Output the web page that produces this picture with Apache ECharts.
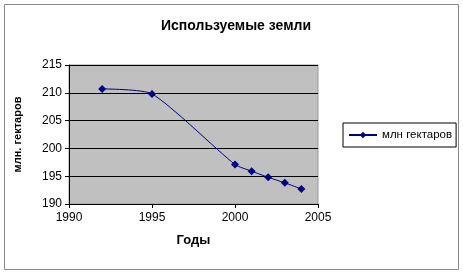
<!DOCTYPE html>
<html><head><meta charset="utf-8">
<script src="https://cdn.jsdelivr.net/npm/echarts@6/dist/echarts.min.js"></script>
<style>html,body{margin:0;padding:0;background:#fff}#c{width:463px;height:275px}</style>
</head><body><div id="c"></div>
<script>
const years = [1992, 1995, 2000, 2001, 2002, 2003, 2004];
const values = [210.7, 209.8, 197.1, 195.9, 194.8, 193.8, 192.7];
const seriesName = 'млн гектаров';
const titleText = 'Используемые земли';
const xName = 'Годы';
const yName = 'млн. гектаров';

const chart = echarts.init(document.getElementById('c'));
const font = 'Liberation Sans, Arial, sans-serif';
chart.setOption({
  animation: false,
  backgroundColor: '#fff',
  title: { text: titleText, left: 231, textAlign: 'center', top: 14,
    textStyle: { fontFamily: font, fontSize: 14, fontWeight: 'bold', color: '#000' } },
  graphic: [
    { type: 'rect', shape: { x: 4.5, y: 4.5, width: 454, height: 265 }, style: { fill: null, stroke: '#888', lineWidth: 1 }, z: -10 }
  ],
  legend: {
    left: 343, top: 123, orient: 'vertical',
    borderColor: '#000', borderWidth: 1, padding: [6, 4, 6, 5],
    itemWidth: 28, itemHeight: 8, itemGap: 4,
    textStyle: { fontFamily: font, fontSize: 11.5, color: '#000' },
    data: [seriesName]
  },
  grid: { left: 69, right: 145, top: 65, bottom: 71, show: true, backgroundColor: '#c0c0c0', borderColor: '#999', borderWidth: 1 },
  xAxis: {
    type: 'value', min: 1990, max: 2005, interval: 5,
    name: xName, nameLocation: 'middle', nameGap: 30,
    nameTextStyle: { fontFamily: font, fontSize: 13, fontWeight: 'bold', color: '#000' },
    axisLine: { show: true, onZero: false, lineStyle: { color: '#000' } },
    axisTick: { show: true, inside: false, length: 4, lineStyle: { color: '#000' } },
    axisLabel: { fontFamily: font, fontSize: 12, color: '#000', margin: 8, formatter: v => String(v) },
    splitLine: { show: false }
  },
  yAxis: {
    type: 'value', min: 190, max: 215, interval: 5,
    name: yName, nameLocation: 'middle', nameGap: 51, nameRotate: 90, nameMoveOverlap: false,
    nameTextStyle: { fontFamily: font, fontSize: 11, fontWeight: 'bold', color: '#000', verticalAlign: 'middle' },
    axisLine: { show: true, onZero: false, lineStyle: { color: '#000' } },
    axisTick: { show: true, inside: false, length: 4, lineStyle: { color: '#000' } },
    axisLabel: { fontFamily: font, fontSize: 12, color: '#000', margin: 7 },
    splitLine: { show: true, lineStyle: { color: '#000', width: 1 } }
  },
  series: [{
    name: seriesName, type: 'line', smooth: 0.2,
    data: years.map((y, i) => [y, values[i]]),
    symbol: 'diamond', symbolSize: 8,
    itemStyle: { color: '#000080' },
    lineStyle: { color: '#000080', width: 1 }
  }]
});
</script></body></html>
